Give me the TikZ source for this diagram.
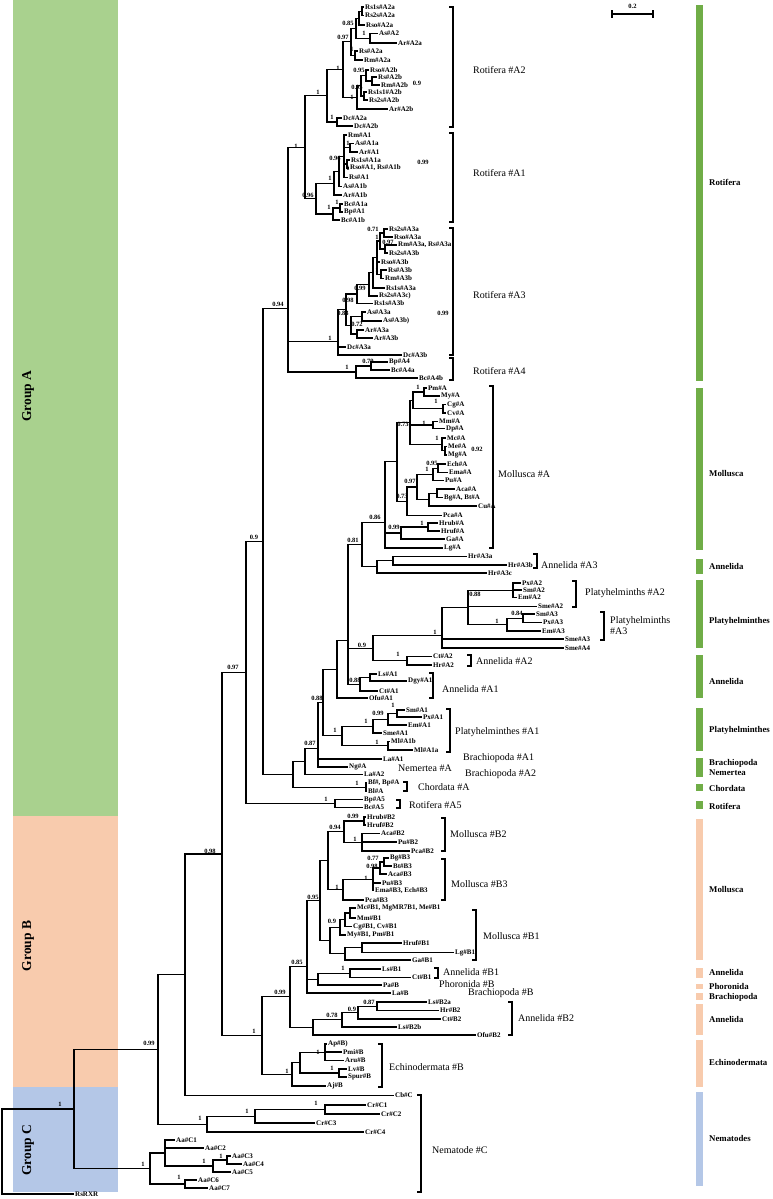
\documentclass[tikz,border=0pt]{standalone}
\usepackage{fontspec}
\setmainfont{Liberation Serif}
\usetikzlibrary{calc}
\definecolor{gA}{HTML}{A9D18E}
\definecolor{gB}{HTML}{F8CBAD}
\definecolor{gC}{HTML}{B4C7E7}
\definecolor{barA}{HTML}{70AD47}
\newcommand\lf[4]{\node[leaf] (#1) at (#2,#3) {#4};}
\newcommand\nd[4]{\coordinate (tmp) at ($(#3)!0.5!(#4)$);\coordinate (#1) at (#2,0 |- tmp);}
\newcommand\br[2]{\foreach \ch in {#2}{\draw[brl] (#1) |- (\ch);}}
\newcommand\ndb[4]{\nd{#1}{#2}{#3}{#4}\br{#1}{#3,#4}}
\newcounter{bsc}
\newcommand\bs[3]{\stepcounter{bsc}\node[supp] (bs\thebsc) at (#1,#2) {#3};}
\newcommand\brk[3]{\draw[brk] (#1-4,#2) -- (#1,#2) -- (#1,#3) -- (#1-4,#3);}
\newcommand\cl[4]{\node[clade] (#1) at (#2,#3) {#4};}
\newcommand\pbar[6]{\fill[#1] (695.5,#2) rectangle (702.5,#3); \node[phy] (#4) at (709,#5) {#6};}
\tikzset{
  leaf/.style={anchor=west, inner sep=1pt, font=\fontsize{7}{7}\selectfont\bfseries},
  supp/.style={inner sep=0pt, font=\fontsize{6.5}{6.5}\selectfont\bfseries},
  clade/.style={anchor=west, inner sep=0pt, font=\fontsize{10}{11}\selectfont},
  phy/.style={anchor=west, inner sep=0pt, font=\fontsize{8.8}{8.8}\selectfont\bfseries},
  brl/.style={line width=1.1pt},
  brk/.style={line width=1.1pt},
  grp/.style={rotate=90, inner sep=0pt, font=\fontsize{13.5}{13.5}\selectfont\bfseries}
}
\begin{document}
\begin{tikzpicture}[x=1pt,y=-1pt]
\useasboundingbox (0,0) rectangle (772,1199);
% group boxes
\fill[gA] (13,0) rectangle (118,816);
\fill[gB] (13,816) rectangle (118,1087);
\fill[gC] (13,1087) rectangle (118,1192);
\node[grp] (grpA) at (28,396) {Group A};
\node[grp] (grpB) at (28,946) {Group B};
\node[grp] (grpC) at (28,1150) {Group C};
% ---------- Rotifera A2
\lf{a2l1}{364}{7}{Rs1s\#A2a}
\lf{a2l2}{364}{15.5}{Rs2s\#A2a}
\lf{a2l3}{365}{25}{Rso\#A2a}
\lf{a2l4}{378}{33.5}{As\#A2}
\lf{a2l5}{397}{43}{Ar\#A2a}
\lf{a2l6}{358}{51}{Rs\#A2a}
\lf{a2l7}{363}{60}{Rm\#A2a}
\lf{a2l8}{369}{70}{Rso\#A2b}
\lf{a2l9}{377}{77}{Rs\#A2b}
\lf{a2l10}{380}{85}{Rm\#A2b}
\lf{a2l11}{367}{92}{Rs1s1\#A2b}
\lf{a2l12}{368}{100}{Rs2s\#A2b}
\lf{a2l13}{388}{109}{Ar\#A2b}
\lf{a2l14}{342}{118}{Dc\#A2a}
\lf{a2l15}{353}{126}{Dc\#A2b}
\ndb{a1}{362}{a2l1}{a2l2}
\ndb{a2}{359}{a1}{a2l3}
\ndb{a3}{370}{a2l4}{a2l5}
\ndb{a4}{356}{a2}{a3}
\ndb{a5}{355}{a2l6}{a2l7}
\ndb{a6}{351}{a4}{a5}
\ndb{a7}{372}{a2l9}{a2l10}
\ndb{a8}{366}{a2l8}{a7}
\ndb{a9}{364}{a2l11}{a2l12}
\ndb{a10}{361}{a8}{a9}
\ndb{a11}{357}{a10}{a2l13}
\ndb{a12}{343}{a6}{a11}
\ndb{a13}{337}{a2l14}{a2l15}
\ndb{a14}{327}{a12}{a13}
% ---------- Rotifera A1
\lf{a1l1}{347}{135}{Rm\#A1}
\lf{a1l2}{354}{143.5}{As\#A1a}
\lf{a1l3}{358}{152}{Ar\#A1}
\lf{a1l4}{350}{160}{Rs1s\#A1a}
\lf{a1l5}{349}{168}{Rso\#A1, Rs\#A1b}
\lf{a1l6}{348}{177.5}{Rs\#A1}
\lf{a1l7}{342}{186.5}{As\#A1b}
\lf{a1l8}{342}{195}{Ar\#A1b}
\lf{a1l9}{343}{204}{Bc\#A1a}
\lf{a1l10}{343}{212}{Bp\#A1}
\lf{a1l11}{340}{220}{Bc\#A1b}
\ndb{b1}{350}{a1l2}{a1l3}
\ndb{b2}{347}{a1l4}{a1l5}
\nd{b3}{344}{a1l1}{a1l6}\br{b3}{a1l1,b1,b2,a1l6}
\ndb{b4}{339}{b3}{a1l7}
\ndb{b5}{334}{b4}{a1l8}
\ndb{b6}{340}{a1l9}{a1l10}
\ndb{b7}{333}{b6}{a1l11}
\ndb{b8}{316}{b5}{b7}
\ndb{b9}{305}{a14}{b8}
% ---------- Rotifera A3
\lf{a3l1}{388}{229}{Rs2s\#A3a}
\lf{a3l2}{393}{237}{Rso\#A3a}
\lf{a3l3}{397}{245}{Rm\#A3a, Rs\#A3a}
\lf{a3l4}{388}{253}{Rs2s\#A3b}
\lf{a3l5}{380}{262}{Rso\#A3b}
\lf{a3l6}{387}{270}{Rs\#A3b}
\lf{a3l7}{384}{278.5}{Rm\#A3b}
\lf{a3l8}{385}{288}{Rs1s\#A3a}
\lf{a3l9}{378}{296}{Rs2s\#A3c)}
\lf{a3l10}{373}{303.5}{Rs1s\#A3b}
\lf{a3l11}{366}{312}{As\#A3a}
\lf{a3l12}{382}{321}{As\#A3b)}
\lf{a3l13}{364}{330}{Ar\#A3a}
\lf{a3l14}{373}{338}{Ar\#A3b}
\lf{a3l15}{346}{347}{Dc\#A3a}
\lf{a3l16}{402}{355}{Dc\#A3b}
\ndb{c1}{384}{a3l1}{a3l2}
\ndb{c2}{385}{a3l3}{a3l4}
\ndb{c3}{380}{c1}{c2}
\ndb{c4}{381}{a3l6}{a3l7}
\nd{c5}{377}{c3}{c4}\br{c5}{c3,a3l5,c4}
\ndb{c6}{373}{c5}{a3l8}
\ndb{c7}{369}{c6}{a3l9}
\ndb{c8}{357}{c7}{a3l10}
\ndb{c9}{362}{a3l11}{a3l12}
\ndb{c10}{357}{a3l13}{a3l14}
\ndb{c11}{351}{c9}{c10}
\ndb{c12}{346}{c8}{c11}
\ndb{c13a}{338}{c12}{a3l15}
\ndb{c13}{338}{c13a}{a3l16}
% ---------- Rotifera A4
\lf{a4l1}{388}{362}{Bp\#A4}
\lf{a4l2}{390}{370}{Bc\#A4a}
\lf{a4l3}{418}{378}{Bc\#A4b}
\ndb{d1}{371}{a4l1}{a4l2}
\ndb{d2}{356}{d1}{a4l3}
\ndb{n10a}{288}{b9}{c13}
\ndb{n10}{288}{n10a}{d2}
% ---------- Mollusca A
\lf{mal1}{427}{388}{Pm\#A}
\lf{mal2}{440}{396}{My\#A}
\lf{mal3}{446}{404.5}{Cg\#A}
\lf{mal4}{446}{413}{Cv\#A}
\lf{mal5}{438}{421.5}{Mm\#A}
\lf{mal6}{445}{428.5}{Dp\#A}
\lf{mal7}{446}{438}{Mc\#A}
\lf{mal8}{447}{446.5}{Me\#A}
\lf{mal9}{447}{455}{Mg\#A}
\lf{mal10}{446}{464}{Ech\#A}
\lf{mal11}{448}{472.5}{Ema\#A}
\lf{mal12}{444}{480.5}{Pu\#A}
\lf{mal13}{455}{489}{Aca\#A}
\lf{mal14}{443}{497.5}{Bg\#A, Bt\#A}
\lf{mal15}{477}{506}{Cu\#A}
\lf{mal16}{442}{515.5}{Pca\#A}
\lf{mal17}{438}{523}{Hrub\#A}
\lf{mal18}{440}{531}{Hruf\#A}
\lf{mal19}{445}{539}{Ga\#A}
\lf{mal20}{443}{548}{Lg\#A}
\ndb{e1}{424}{mal1}{mal2}
\ndb{e2}{443}{mal3}{mal4}
\ndb{e3}{433}{mal5}{mal6}
\ndb{e4}{445}{mal8}{mal9}
\ndb{e5}{442}{mal7}{e4}
\ndb{e6}{413}{e1}{e2}
\nd{e7}{410}{e6}{e5}\br{e7}{e6,e3,e5}
\ndb{e8}{438}{mal10}{mal11}
\ndb{e9}{433}{e8}{mal12}
\ndb{e10}{437}{mal13}{mal14}
\ndb{e11}{429}{e10}{mal15}
\ndb{e12}{417}{e9}{e11}
\ndb{e13}{407}{e12}{mal16}
\ndb{e14}{397}{e7}{e13}
\ndb{e15}{428}{mal17}{mal18}
\ndb{e16}{401}{e15}{mal19}
\ndb{e17}{385}{e14}{e16}
\ndb{e18}{385}{e17}{mal20}
\lf{hrl1}{467}{556.5}{Hr\#A3a}
\lf{hrl2}{507}{565}{Hr\#A3b}
\lf{hrl3}{487}{573}{Hr\#A3c}
\ndb{f1}{393}{hrl1}{hrl2}
\ndb{f2}{377}{f1}{hrl3}
\ndb{e19}{362}{e18}{f2}
% ---------- Platyhelminthes A2/A3
\lf{pl1}{521}{583}{Px\#A2}
\lf{pl2}{522}{590}{Sm\#A2}
\lf{pl3}{517}{597.5}{Em\#A2}
\lf{pl4}{537}{606.5}{Sme\#A2}
\lf{pl5}{535}{614}{Sm\#A3}
\lf{pl6}{542}{622.5}{Px\#A3}
\lf{pl7}{541}{631}{Em\#A3}
\lf{pl8}{564}{639}{Sme\#A3}
\lf{pl9}{564}{648}{Sme\#A4}
\nd{g1}{513}{pl1}{pl3}\br{g1}{pl1,pl2,pl3}
\ndb{g3}{523}{pl5}{pl6}
\ndb{g4}{507}{g3}{pl7}
\nd{g5}{468}{g1}{g4}\br{g5}{g1,pl4,g4}
\ndb{g6}{442}{g5}{pl8}
\ndb{g7}{442}{g6}{pl9}
\lf{ctl1}{432}{656.5}{Ct\#A2}
\lf{ctl2}{432}{665}{Hr\#A2}
\ndb{h1}{407}{ctl1}{ctl2}
\ndb{h2}{373}{g7}{h1}
\lf{anl1}{377}{674}{Ls\#A1}
\lf{anl2}{407}{681}{Dgy\#A1}
\lf{anl3}{378}{691}{Ct\#A1}
\lf{anl4}{368}{698}{Ofu\#A1}
\ndb{i1}{370}{anl1}{anl2}
\ndb{i2}{360}{i1}{anl3}
\ndb{j1}{348}{e19}{h2}
\ndb{j2}{348}{j1}{i2}
\ndb{j3}{337}{j2}{anl4}
\lf{pal1}{405}{710}{Sm\#A1}
\lf{pal2}{422}{717}{Px\#A1}
\lf{pal3}{407}{725}{Em\#A1}
\lf{pal4}{382}{733}{Sme\#A1}
\lf{pal5}{390}{741.5}{Ml\#A1b}
\lf{pal6}{413}{750}{Ml\#A1a}
\ndb{k1}{397}{pal1}{pal2}
\ndb{k2}{388}{k1}{pal3}
\ndb{k3}{373}{k2}{pal4}
\ndb{k4}{388}{pal5}{pal6}
\ndb{k5}{342}{k3}{k4}
\ndb{j4}{323}{j3}{k5}
\lf{ol1}{382}{759}{La\#A1}
\lf{ol2}{348}{767}{Ng\#A}
\lf{ol3}{363}{774.5}{La\#A2}
\lf{ol4}{367}{783}{Bf\#, Bp\#A}
\lf{ol5}{367}{791.5}{Bl\#A}
\ndb{j5}{318}{j4}{ol1}
\ndb{j6}{318}{j5}{ol2}
\ndb{j7}{305}{j6}{ol3}
\ndb{l1}{366}{ol4}{ol5}
\ndb{j8}{293}{j7}{l1}
\ndb{N09}{263}{n10}{j8}
\lf{r5l1}{363}{799.5}{Bp\#A5}
\lf{r5l2}{363}{807.5}{Bc\#A5}
\ndb{m1}{335}{r5l1}{r5l2}
\ndb{N097}{246}{N09}{m1}
% ---------- Group B
\lf{b2l1}{366}{817}{Hrub\#B2}
\lf{b2l2}{366}{825}{Hruf\#B2}
\lf{b2l3}{380}{833.5}{Aca\#B2}
\lf{b2l4}{397}{842}{Pu\#B2}
\lf{b2l5}{410}{851}{Pca\#B2}
\lf{b3l1}{389}{858}{Bg\#B3}
\lf{b3l2}{392}{866}{Bt\#B3}
\lf{b3l3}{387}{874}{Aca\#B3}
\lf{b3l4}{381}{883}{Pu\#B3}
\lf{b3l5}{374}{890.5}{Ema\#B3, Ech\#B3}
\lf{b3l6}{364}{900}{Pca\#B3}
\lf{b1l1}{356}{908}{Mc\#B1, MgMR7B1, Me\#B1}
\lf{b1l2}{356}{918}{Mm\#B1}
\lf{b1l3}{352}{926.5}{Cg\#B1, Cv\#B1}
\lf{b1l4}{346}{935}{My\#B1, Pm\#B1}
\lf{b1l5}{402}{943}{Hruf\#B1}
\lf{b1l6}{454}{952.5}{Lg\#B1}
\lf{b1l7}{411}{960}{Ga\#B1}
\lf{bal1}{381}{969}{Ls\#B1}
\lf{bal2}{411}{977.5}{Ct\#B1}
\lf{bal3}{382}{985}{Pa\#B}
\lf{bal4}{391}{993}{La\#B}
\lf{bbl1}{427}{1002}{Ls\#B2a}
\lf{bbl2}{439}{1010.5}{Hr\#B2}
\lf{bbl3}{441}{1019}{Ct\#B2}
\lf{bbl4}{397}{1027}{Ls\#B2b}
\lf{bbl5}{476}{1035}{Ofu\#B2}
\lf{ecl1}{327}{1044}{Ap\#B)}
\lf{ecl2}{342}{1052}{Pmi\#B}
\lf{ecl3}{344}{1060.5}{Aru\#B}
\lf{ecl4}{347}{1069}{Lv\#B}
\lf{ecl5}{347}{1077}{Spur\#B}
\lf{ecl6}{326}{1086}{Aj\#B}
\ndb{o1}{364}{b2l1}{b2l2}
\nd{o2}{362}{b2l3}{b2l5}\br{o2}{b2l3,b2l4,b2l5}
\ndb{o3}{344}{o1}{o2}
\ndb{p1}{384}{b3l1}{b3l2}
\ndb{p2}{380}{p1}{b3l3}
\nd{p3}{373}{p2}{b3l5}\br{p3}{p2,b3l4,b3l5}
\ndb{p4}{343}{p3}{b3l6}
\ndb{o4}{328}{o3}{p4}
\ndb{q1}{350}{b1l1}{b1l2}
\ndb{q2}{345}{q1}{b1l3}
\ndb{q3}{340}{q2}{b1l4}
\ndb{q4}{362}{b1l5}{b1l6}
\ndb{q5}{345}{q4}{b1l7}
\ndb{q6}{330}{q3}{q5}
\ndb{o5}{320}{o4}{q6}
\ndb{r1}{350}{bal1}{bal2}
\ndb{r2}{318}{r1}{bal3}
\ndb{o6}{307}{o5}{r2}
\ndb{o7}{307}{o6}{bal4}
\ndb{s1}{377}{bbl1}{bbl2}
\ndb{s2}{358}{s1}{bbl3}
\ndb{s3}{342}{s2}{bbl4}
\ndb{s4}{313}{s3}{bbl5}
\ndb{o8}{290}{o7}{s4}
\nd{t1}{325}{ecl1}{ecl3}\br{t1}{ecl1,ecl2,ecl3}
\ndb{t2}{339}{ecl4}{ecl5}
\ndb{t3}{300}{t1}{t2}
\ndb{t4}{292}{t3}{ecl6}
\ndb{o9}{262}{o8}{t4}
\ndb{N098}{222}{N097}{o9}
% ---------- Group C
\lf{cbl}{394}{1095.5}{Cb\#C}
\lf{crl1}{366}{1105}{Cr\#C1}
\lf{crl2}{380}{1114}{Cr\#C2}
\lf{crl3}{315}{1123}{Cr\#C3}
\lf{crl4}{364}{1132}{Cr\#C4}
\lf{aal1}{175}{1140}{Aa\#C1}
\lf{aal2}{204}{1148}{Aa\#C2}
\lf{aal3}{231}{1156}{Aa\#C3}
\lf{aal4}{242}{1164}{Aa\#C4}
\lf{aal5}{231}{1172}{Aa\#C5}
\lf{aal6}{197}{1180}{Aa\#C6}
\lf{aal7}{208}{1188}{Aa\#C7}
\lf{rxr}{74}{1194}{RsRXR}
\ndb{N185}{185}{N098}{cbl}
\ndb{u1}{325}{crl1}{crl2}
\ndb{u2}{255}{u1}{crl3}
\ndb{u3}{207}{u2}{crl4}
\ndb{N099}{158}{N185}{u3}
\ndb{v1}{227}{aal3}{aal4}
\ndb{v2}{213}{v1}{aal5}
\nd{v3}{165}{aal1}{v2}\br{v3}{aal1,aal2,v2}
\ndb{v4}{185}{aal6}{aal7}
\ndb{v5}{150}{v3}{v4}
\ndb{N1}{74}{N099}{v5}
\ndb{root}{2}{N1}{rxr}
% ---------- support values
\bs{348}{23}{0.85}\bs{343}{37}{0.97}\bs{364}{33}{1}\bs{352}{49}{1}
\bs{359}{70}{0.95}\bs{357}{87}{0.95}\bs{352}{97}{1}\bs{338}{68}{1}
\bs{318}{92}{1}\bs{332}{117}{1}\bs{417}{83}{0.9}
\bs{348}{143}{1}\bs{348}{168}{1}\bs{335}{158}{0.96}\bs{330}{178}{1}
\bs{337}{202}{1}\bs{329}{207}{1}\bs{308}{195}{0.96}\bs{423}{162}{0.99}
\bs{296}{146}{1}
\bs{373}{229}{0.71}\bs{377}{237}{1}\bs{388}{242}{0.97}\bs{377}{270}{1}
\bs{360}{288}{0.99}\bs{348}{300}{0.98}\bs{343}{313}{0.83}\bs{357}{324}{0.72}
\bs{330}{338}{1}\bs{443}{313}{0.99}
\bs{368}{361}{0.79}\bs{347}{367}{1}\bs{278}{304}{0.94}
\bs{418}{387}{1}\bs{436}{401}{1}\bs{424}{423}{1}\bs{437}{438}{1}
\bs{477}{449}{0.92}\bs{403}{424}{0.73}\bs{432}{463}{0.95}\bs{427}{469}{1}
\bs{410}{481}{0.97}\bs{402}{496}{0.73}\bs{422}{523}{1}\bs{394}{527}{0.99}
\bs{375}{517}{0.86}\bs{353}{540}{0.81}
\bs{475}{594}{0.88}\bs{517}{613}{0.84}\bs{497}{621}{1}\bs{435}{632}{1}
\bs{398}{654}{1}\bs{362}{645}{0.9}\bs{355}{680}{0.88}
\bs{393}{705}{1}\bs{378}{713}{0.99}\bs{366}{721}{1}\bs{377}{742}{1}
\bs{335}{730}{1}\bs{317}{698}{0.88}\bs{310}{743}{0.87}\bs{357}{783}{1}
\bs{254}{537}{0.9}\bs{326}{799}{1}\bs{233}{667}{0.97}
\bs{353}{816}{0.99}\bs{355}{839}{1}\bs{335}{827}{0.94}\bs{373}{858}{0.77}
\bs{372}{866}{0.98}\bs{366}{878}{1}\bs{337}{887}{1}\bs{332}{921}{0.9}
\bs{313}{897}{0.95}\bs{343}{968}{1}\bs{297}{962}{0.85}\bs{369}{1002}{0.87}
\bs{352}{1009}{0.9}\bs{332}{1015}{0.78}\bs{280}{992}{0.99}\bs{318}{1052}{1}
\bs{332}{1068}{1}\bs{287}{1071}{1}\bs{254}{1031}{1}\bs{210}{851}{0.98}
\bs{149}{1043}{0.99}\bs{316}{1103}{1}\bs{247}{1111}{1}\bs{200}{1118}{1}
\bs{221}{1156}{1}\bs{204}{1161}{1}\bs{179}{1177}{1}\bs{143}{1164}{1}
\bs{60}{1104}{1}
% ---------- brackets and clade labels
\brk{453}{7}{127}\cl{cl1}{473}{70}{Rotifera \#A2}
\brk{453}{133}{222}\cl{cl2}{473}{173}{Rotifera \#A1}
\brk{453}{228}{355}\cl{cl3}{473}{295}{Rotifera \#A3}
\brk{453}{358}{380}\cl{cl4}{473}{371}{Rotifera \#A4}
\brk{493}{386}{548}\cl{cl5}{498}{474}{Mollusca \#A}
\brk{537}{554}{568}\cl{cl6}{541}{565}{Annelida \#A3}
\brk{576}{581}{607}\cl{cl7}{585}{593}{Platyhelminths \#A2}
\brk{604}{612}{640}\node[clade,align=left] (cl8) at (610,626) {Platyhelminths\\\#A3};
\brk{471}{655}{666}\cl{cl9}{476}{661}{Annelida \#A2}
\brk{433}{673}{698}\cl{cl10}{442}{689}{Annelida \#A1}
\brk{450}{709}{752}\cl{cl11}{455}{732}{Platyhelminthes \#A1}
\cl{cl12}{463}{758}{Brachiopoda \#A1}
\cl{cl13}{398}{768}{Nemertea \#A}
\cl{cl14}{465}{774}{Brachiopoda \#A2}
\brk{407}{782}{791}\cl{cl15}{418}{787}{Chordata \#A}
\brk{400}{800}{808}\cl{cl16}{409}{805}{Rotifera \#A5}
\brk{445}{818}{851}\cl{cl17}{450}{834}{Mollusca \#B2}
\brk{445}{859}{900}\cl{cl18}{451}{884}{Mollusca \#B3}
\brk{476}{910}{960}\cl{cl19}{483}{936}{Mollusca \#B1}
\brk{438}{968}{978}\cl{cl20}{443}{972}{Annelida \#B1}
\cl{cl21}{439}{984}{Phoronida \#B}
\cl{cl22}{468}{993}{Brachiopoda \#B}
\brk{512}{1002}{1035}\cl{cl23}{518}{1018}{Annelida \#B2}
\brk{382}{1044}{1087}\cl{cl24}{389}{1067}{Echinodermata \#B}
\brk{421}{1095}{1192}\cl{cl25}{432}{1150}{Nematode \#C}
% ---------- phylum bars
\pbar{barA}{5}{381}{ph1}{182}{Rotifera}
\pbar{barA}{388}{550}{ph2}{473}{Mollusca}
\pbar{barA}{559}{574}{ph3}{566}{Annelida}
\pbar{barA}{580}{648}{ph4}{621}{Platyhelminthes}
\pbar{barA}{655}{698}{ph5}{681}{Annelida}
\pbar{barA}{708}{751}{ph6}{730}{Platyhelminthes}
\pbar{barA}{758}{777}{ph7}{763}{Brachiopoda}
\node[phy] (ph8) at (709,773) {Nemertea};
\pbar{barA}{784}{791}{ph9}{788}{Chordata}
\pbar{barA}{801}{809}{ph10}{806}{Rotifera}
\pbar{gB}{819}{960}{ph11}{889}{Mollusca}
\pbar{gB}{968}{978}{ph12}{972}{Annelida}
\pbar{gB}{984}{989}{ph13}{986}{Phoronida}
\pbar{gB}{993}{1000}{ph14}{997}{Brachiopoda}
\pbar{gB}{1004}{1035}{ph15}{1019}{Annelida}
\pbar{gB}{1040}{1087}{ph16}{1062}{Echinodermata}
\pbar{gC}{1092}{1186}{ph17}{1138}{Nematodes}
% ---------- scale bar
\coordinate (sbl) at (612,14);
\coordinate (sbr) at (653,14);
\draw[line width=1.1pt] (sbl) -- (sbr);
\draw[line width=1.1pt] ([yshift=-4pt]sbl) -- ([yshift=4pt]sbl);
\draw[line width=1.1pt] ([yshift=-4pt]sbr) -- ([yshift=4pt]sbr);
\node[supp] (sbt) at (632.5,6) {0.2};
\end{tikzpicture}
\end{document}
